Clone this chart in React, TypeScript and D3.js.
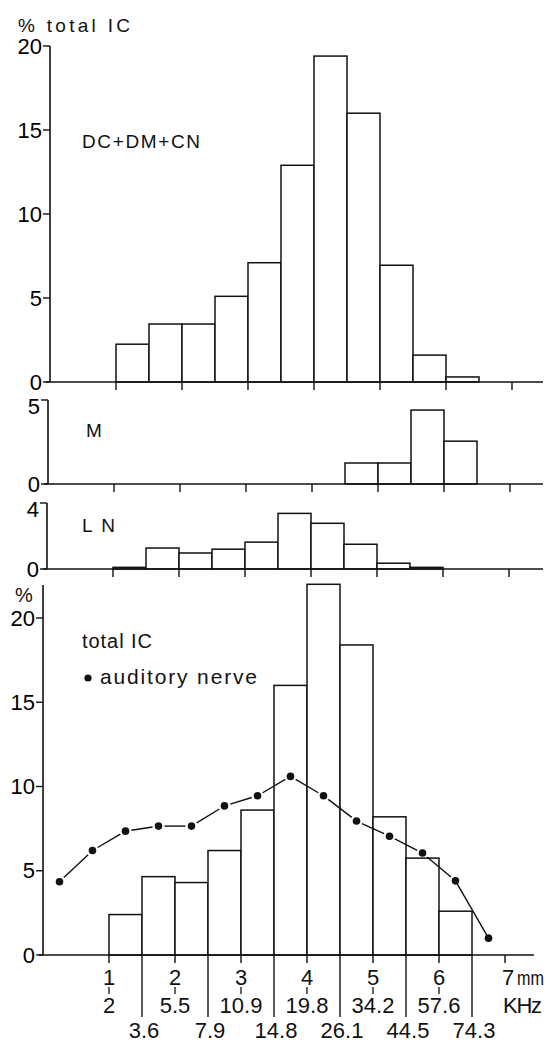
import * as d3 from "d3";

// bins are half a millimetre wide, starting at these positions (mm)
const binStarts = [1, 1.5, 2, 2.5, 3, 3.5, 4, 4.5, 5, 5.5, 6];
const binWidth = 0.5;

// % of total IC per bin
const dcDmCnValues = [2.25, 3.45, 3.45, 5.1, 7.1, 12.9, 19.4, 16.0, 6.95, 1.6, 0.3];
const mValues = [0, 0, 0, 0, 0, 0, 0, 1.25, 1.25, 4.4, 2.55];
const lnValues = [0.1, 1.27, 0.97, 1.2, 1.63, 3.37, 2.77, 1.5, 0.35, 0.1, 0];
const totalValues = [2.4, 4.65, 4.3, 6.2, 8.6, 16.0, 22.0, 18.4, 8.2, 5.75, 2.6];

// auditory nerve
const nervePos = [0.25, 0.75, 1.25, 1.75, 2.25, 2.75, 3.25, 3.75, 4.25, 4.75, 5.25, 5.75, 6.25, 6.75];
const nerveValues = [4.35, 6.2, 7.35, 7.65, 7.65, 8.85, 9.45, 10.6, 9.45, 7.95, 7.05, 6.05, 4.4, 1.0];

// axis labels
const mmTicks = [1, 2, 3, 4, 5, 6];
const kHzAtMm = ["2", "5.5", "10.9", "19.8", "34.2", "57.6"];
const halfTicks = [1.5, 2.5, 3.5, 4.5, 5.5, 6.5];
const kHzAtHalf = ["3.6", "7.9", "14.8", "26.1", "44.5", "74.3"];

const FONT = "'Liberation Sans Narrow', 'Liberation Sans', Arial, sans-serif";
const MM = 66;

type Panel = {
  values: number[];
  x0: number;
  y0: number;
  yTop: number;
  axisTop: number;
  max: number;
  ticks: number[];
};

const panels: Panel[] = [
  { values: dcDmCnValues, x0: 50, y0: 382, yTop: 46, axisTop: 46, max: 20, ticks: [0, 5, 10, 15, 20] },
  { values: mValues, x0: 48, y0: 484, yTop: 400, axisTop: 400, max: 5, ticks: [0, 5] },
  { values: lnValues, x0: 47, y0: 569, yTop: 503, axisTop: 503, max: 4, ticks: [0, 4] },
  { values: totalValues, x0: 43, y0: 955, yTop: 618, axisTop: 585, max: 20, ticks: [0, 5, 10, 15, 20] },
];

const stroke = "#111";

function Histogram({ p, idx }: { p: Panel; idx: number }) {
  const x = d3.scaleLinear().domain([0, 7]).range([p.x0, p.x0 + 7 * MM]);
  const y = d3.scaleLinear().domain([0, p.max]).range([p.y0, p.yTop]);
  const right = idx === 3 ? 534 : 543;
  return (
    <g>
      {p.values.map((v, i) =>
        v > 0 ? (
          <rect
            key={i}
            x={x(binStarts[i])}
            y={y(v)}
            width={x(binStarts[i] + binWidth) - x(binStarts[i])}
            height={y(0) - y(v)}
            fill="white"
            stroke={stroke}
            strokeWidth={1.5}
          />
        ) : null
      )}
      {/* y axis */}
      <line x1={p.x0} x2={p.x0} y1={p.axisTop} y2={p.y0} stroke={stroke} strokeWidth={1.6} />
      {p.ticks.map((t) => (
        <g key={t}>
          <line x1={p.x0 - 7} x2={p.x0} y1={y(t)} y2={y(t)} stroke={stroke} strokeWidth={1.4} />
          <text
            x={p.x0 - 8}
            y={y(t) + (t === p.max && idx > 0 && idx < 3 ? 6 : 0)}
            textAnchor="end"
            dominantBaseline="central"
            fontSize={22}
            fontFamily={FONT}
          >
            {t}
          </text>
        </g>
      ))}
      {/* x baseline */}
      <line x1={p.x0 - 4} x2={right} y1={p.y0} y2={p.y0} stroke={stroke} strokeWidth={1.6} />
      {[1, 2, 3, 4, 5, 6, 7].map((m) => (
        <line key={m} x1={x(m)} x2={x(m)} y1={p.y0} y2={p.y0 + 8} stroke={stroke} strokeWidth={1.4} />
      ))}
    </g>
  );
}

function Labels() {
  const p = panels[3];
  const x = d3.scaleLinear().domain([0, 7]).range([p.x0, p.x0 + 7 * MM]);
  return (
    <g fontFamily={FONT} fill="#111">
      {halfTicks.map((m, i) => (
        <g key={m}>
          <line x1={x(m)} x2={x(m)} y1={p.y0} y2={1017} stroke={stroke} strokeWidth={1.4} />
          <text x={x(m) + 2} y={1038} textAnchor="middle" fontSize={22}>
            {kHzAtHalf[i]}
          </text>
        </g>
      ))}
      {mmTicks.map((m, i) => (
        <g key={m}>
          <text x={x(m)} y={985} textAnchor="middle" fontSize={22}>
            {m}
          </text>
          <line x1={x(m)} x2={x(m)} y1={987} y2={994} stroke={stroke} strokeWidth={1.3} />
          <text x={x(m)} y={1013} textAnchor="middle" fontSize={22}>
            {kHzAtMm[i]}
          </text>
        </g>
      ))}
      <text x={x(7) - 3} y={985} fontSize={22}>7</text>
      <text x={x(7) + 12} y={985} fontSize={21} textLength={27} lengthAdjust="spacingAndGlyphs">mm</text>
      <text x={503} y={1013} fontSize={22} textLength={39} lengthAdjust="spacing">KHz</text>

      <text x={18} y={32} fontSize={19} textLength={112} lengthAdjust="spacing">% total IC</text>
      <text x={82} y={148} fontSize={19} textLength={118} lengthAdjust="spacing">DC+DM+CN</text>
      <text x={86} y={437} fontSize={19}>M</text>
      <text x={82} y={532} fontSize={19} textLength={33} lengthAdjust="spacing">LN</text>
      <text x={15} y={602} fontSize={20}>%</text>
      <text x={82} y={648} fontSize={20} textLength={70} lengthAdjust="spacing">total IC</text>
      <circle cx={88} cy={678} r={3.6} fill="#111" />
      <text x={100} y={684} fontSize={21} textLength={157} lengthAdjust="spacing">auditory nerve</text>
    </g>
  );
}

function Nerve() {
  const p = panels[3];
  const x = d3.scaleLinear().domain([0, 7]).range([p.x0, p.x0 + 7 * MM]);
  const y = d3.scaleLinear().domain([0, p.max]).range([p.y0, p.yTop]);
  const pts = nervePos.map((m, i) => [x(m), y(nerveValues[i])] as [number, number]);
  const segs = d3.pairs(pts).map(([a, b], i) => {
    const dx = b[0] - a[0];
    const dy = b[1] - a[1];
    const len = Math.hypot(dx, dy);
    const gap = i === pts.length - 2 ? 0 : 6;
    const ux = dx / len;
    const uy = dy / len;
    return [a[0] + ux * gap, a[1] + uy * gap, b[0] - ux * gap, b[1] - uy * gap];
  });
  return (
    <g>
      {segs.map((s, i) => (
        <line key={i} x1={s[0]} y1={s[1]} x2={s[2]} y2={s[3]} stroke={stroke} strokeWidth={1.4} />
      ))}
      {pts.map((pt, i) => (
        <circle key={i} cx={pt[0]} cy={pt[1]} r={3.8} fill="#111" />
      ))}
    </g>
  );
}

export default function App() {
  return (
    <svg
      width={552}
      height={1042}
      viewBox="0 0 552 1042"
      style={{ position: "absolute", left: 0, top: 0, background: "white" }}
    >
      <rect width={552} height={1042} fill="white" />
      {panels.map((p, i) => (
        <Histogram key={i} p={p} idx={i} />
      ))}
      <Nerve />
      <Labels />
    </svg>
  );
}
